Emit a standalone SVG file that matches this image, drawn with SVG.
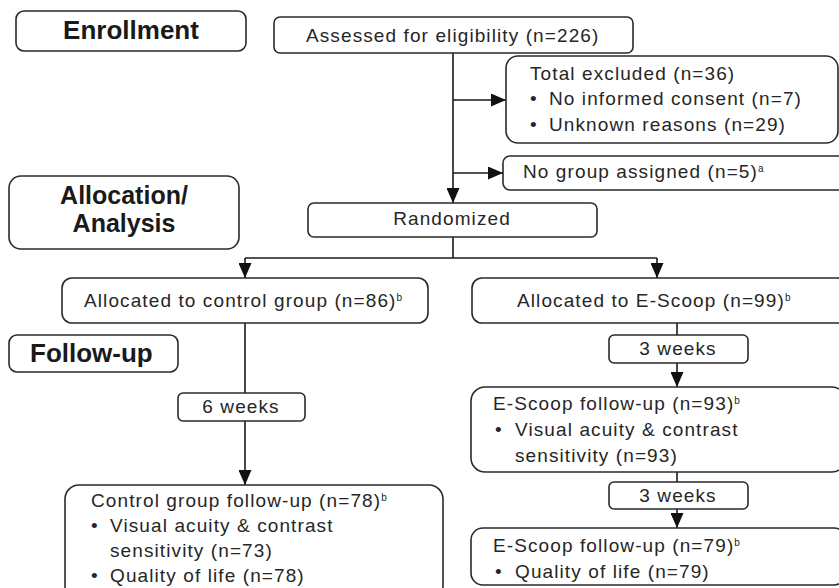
<svg xmlns="http://www.w3.org/2000/svg" width="839" height="588" viewBox="0 0 839 588">
<style>
  .box { fill: #ffffff; stroke: #2a2a2a; stroke-width: 1.6; }
  .lbl { font-family: "Liberation Sans", Arial, sans-serif; font-size: 26px; font-weight: bold; fill: #1a1a1a; }
  .lbl2 { font-size: 25px; }
  .t { font-family: "Liberation Sans", Arial, sans-serif; font-size: 19px; letter-spacing: 1.1px; fill: #262626; }
  .sup { font-size: 10px; letter-spacing: 0; }
  .ln { fill: none; stroke: #1a1a1a; stroke-width: 1.6; }
</style>
<defs>
  <marker id="ah" markerUnits="userSpaceOnUse" markerWidth="15" markerHeight="13" refX="15" refY="6.5" orient="auto">
    <path d="M0,0 L15,6.5 L0,13 z" fill="#111111"/>
  </marker>
</defs>
<rect width="839" height="588" fill="#ffffff"/>

<g id="connectors">
  <path class="ln" d="M453,53 V203" marker-end="url(#ah)"/>
  <path class="ln" d="M453,100 H506" marker-end="url(#ah)"/>
  <path class="ln" d="M453,173 H503" marker-end="url(#ah)"/>
  <path class="ln" d="M453,237 V258"/>
  <path class="ln" d="M245,258 H657"/>
  <path class="ln" d="M245,258 V278" marker-end="url(#ah)"/>
  <path class="ln" d="M657,258 V278" marker-end="url(#ah)"/>
  <path class="ln" d="M245,323 V393"/>
  <path class="ln" d="M245,421 V485" marker-end="url(#ah)"/>
  <path class="ln" d="M677,323 V335"/>
  <path class="ln" d="M677,363 V387" marker-end="url(#ah)"/>
  <path class="ln" d="M677,472 V482"/>
  <path class="ln" d="M677,509 V528" marker-end="url(#ah)"/>
</g>

<g id="enrollment">
  <rect class="box" x="16" y="11" width="230" height="40" rx="8"/>
  <text class="lbl" x="131" y="39" text-anchor="middle">Enrollment</text>
</g>

<g id="assessed">
  <rect class="box" x="274" y="17" width="359" height="36" rx="6"/>
  <text class="t" x="306" y="42">Assessed for eligibility (n=226)</text>
</g>

<g id="excluded">
  <rect class="box" x="506" y="56" width="332" height="87" rx="12"/>
  <text class="t" x="530" y="80">Total excluded (n=36)</text>
  <text class="t" x="530" y="105">•</text>
  <text class="t" x="549" y="105">No informed consent (n=7)</text>
  <text class="t" x="530" y="131">•</text>
  <text class="t" x="549" y="131">Unknown reasons (n=29)</text>
</g>

<g id="nogroup">
  <rect class="box" x="503" y="156" width="345" height="34" rx="7"/>
  <text class="t" x="523" y="178">No group assigned (n=5)<tspan class="sup" dy="-6">a</tspan></text>
</g>

<g id="allocation">
  <rect class="box" x="9" y="176" width="230" height="73" rx="12"/>
  <text class="lbl lbl2" x="124" y="204" text-anchor="middle">Allocation/</text>
  <text class="lbl lbl2" x="124" y="232" text-anchor="middle">Analysis</text>
</g>

<g id="randomized">
  <rect class="box" x="308" y="203" width="289" height="34" rx="6"/>
  <text class="t" x="452" y="225" text-anchor="middle">Randomized</text>
</g>

<g id="alloc-control">
  <rect class="box" x="62" y="278" width="366" height="45" rx="10"/>
  <text class="t" x="84" y="307">Allocated to control group (n=86)<tspan class="sup" dy="-6">b</tspan></text>
</g>

<g id="alloc-escoop">
  <rect class="box" x="472" y="278" width="375" height="45" rx="10"/>
  <text class="t" x="517" y="307">Allocated to E-Scoop (n=99)<tspan class="sup" dy="-6">b</tspan></text>
</g>

<g id="followup">
  <rect class="box" x="9" y="335" width="169" height="37" rx="8"/>
  <text class="lbl" x="30" y="362">Follow-up</text>
</g>

<g id="six-weeks">
  <rect class="box" x="178" y="393" width="127" height="28" rx="5"/>
  <text class="t" x="241" y="413" text-anchor="middle">6 weeks</text>
</g>

<g id="control-followup">
  <rect class="box" x="65" y="485" width="378" height="115" rx="14"/>
  <text class="t" x="91" y="507">Control group follow-up (n=78)<tspan class="sup" dy="-6">b</tspan></text>
  <text class="t" x="91" y="532">•</text>
  <text class="t" x="110" y="532">Visual acuity &amp; contrast</text>
  <text class="t" x="110" y="557">sensitivity (n=73)</text>
  <text class="t" x="91" y="582">•</text>
  <text class="t" x="110" y="582">Quality of life (n=78)</text>
</g>

<g id="three-weeks-1">
  <rect class="box" x="609" y="335" width="139" height="28" rx="5"/>
  <text class="t" x="678" y="355" text-anchor="middle">3 weeks</text>
</g>

<g id="escoop-followup-93">
  <rect class="box" x="471" y="387" width="375" height="85" rx="14"/>
  <text class="t" x="493" y="410">E-Scoop follow-up (n=93)<tspan class="sup" dy="-6">b</tspan></text>
  <text class="t" x="495" y="436">•</text>
  <text class="t" x="515" y="436">Visual acuity &amp; contrast</text>
  <text class="t" x="515" y="462">sensitivity (n=93)</text>
</g>

<g id="three-weeks-2">
  <rect class="box" x="609" y="482" width="139" height="27" rx="5"/>
  <text class="t" x="678" y="502" text-anchor="middle">3 weeks</text>
</g>

<g id="escoop-followup-79">
  <rect class="box" x="471" y="528" width="375" height="57" rx="12"/>
  <text class="t" x="493" y="552">E-Scoop follow-up (n=79)<tspan class="sup" dy="-6">b</tspan></text>
  <text class="t" x="495" y="578">•</text>
  <text class="t" x="515" y="578">Quality of life (n=79)</text>
</g>
</svg>
